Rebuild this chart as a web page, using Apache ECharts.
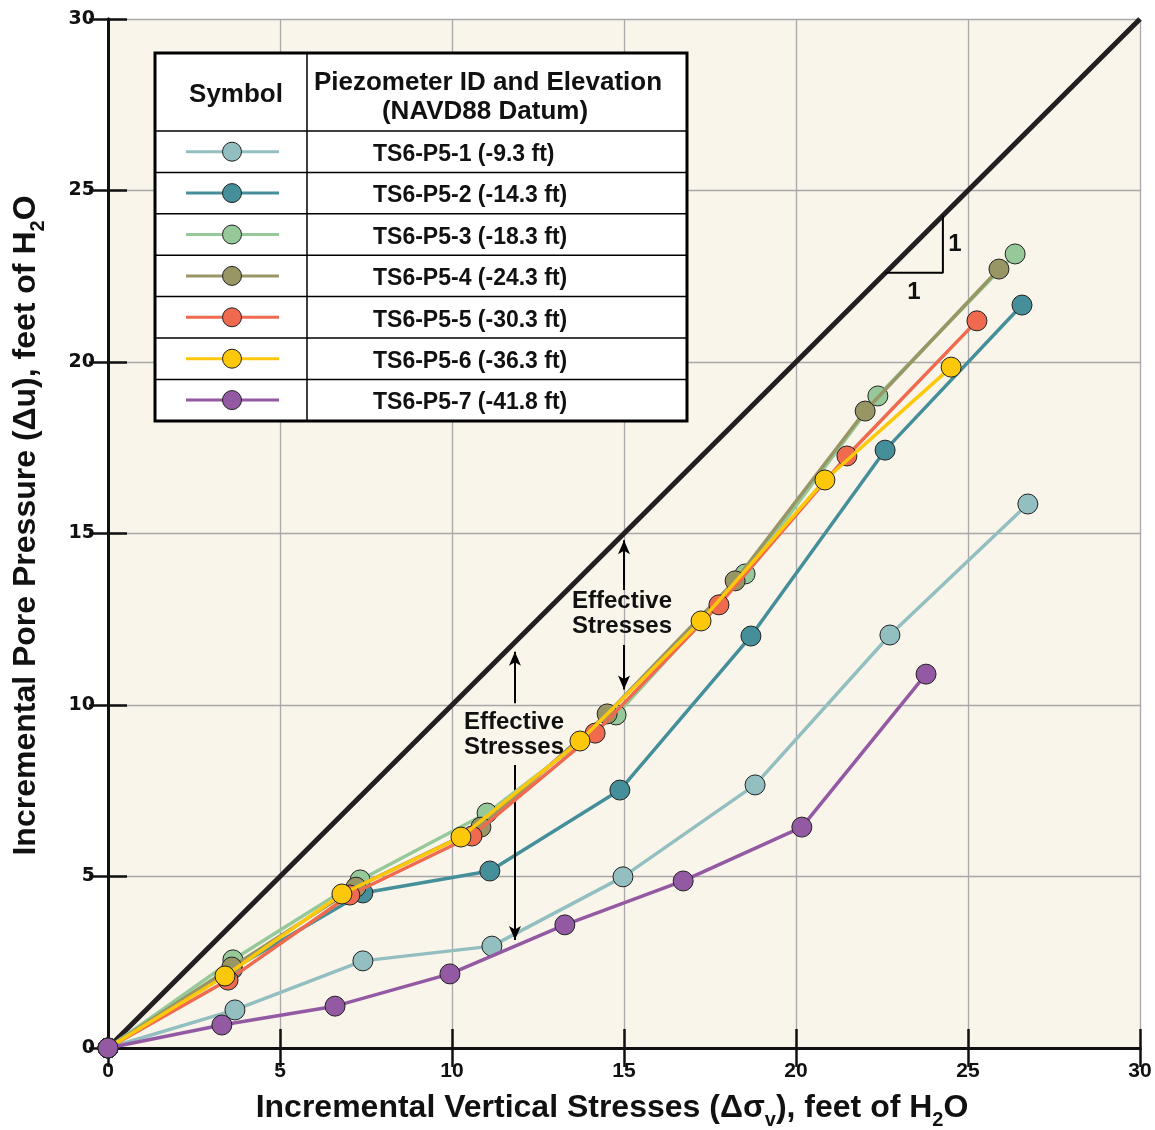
<!DOCTYPE html>
<html>
<head>
<meta charset="utf-8">
<script src="https://cdn.jsdelivr.net/npm/echarts@6/dist/echarts.min.js"></script>
<style>
  html, body { margin: 0; padding: 0; background: #fff; }
  #chart { width: 1155px; height: 1130px; }
</style>
</head>
<body>
<div id="chart"></div>
<script>
// piezometer readings: [incremental vertical stress, incremental pore pressure]
const p1 = [[0, 0], [3.69, 1.11], [7.41, 2.54], [11.16, 2.97], [14.97, 4.99], [18.81, 7.67], [22.73, 12.04], [26.74, 15.86]];
const p2 = [[0, 0], [3.62, 2.3], [7.41, 4.52], [11.10, 5.16], [14.88, 7.52], [18.69, 12.01], [22.59, 17.43], [26.57, 21.66]];
const p3 = [[0, 0], [3.63, 2.57], [7.33, 4.90], [11.02, 6.85], [14.77, 9.71], [18.52, 13.82], [22.38, 19.01], [26.37, 23.15]];
const p4 = [[0, 0], [3.60, 2.36], [7.21, 4.69], [10.84, 6.44], [14.51, 9.74], [18.23, 13.62], [22.01, 18.57], [25.90, 22.71]];
const p5 = [[0, 0], [3.49, 1.98], [7.03, 4.46], [10.58, 6.18], [14.16, 9.18], [17.76, 12.92], [21.48, 17.26], [25.26, 21.20]];
const p6 = [[0, 0], [3.40, 2.10], [6.80, 4.49], [10.26, 6.15], [13.72, 8.95], [17.24, 12.45], [20.84, 16.56], [24.51, 19.85]];
const p7 = [[0, 0], [3.31, 0.67], [6.60, 1.22], [9.94, 2.16], [13.28, 3.59], [16.72, 4.87], [20.17, 6.44], [23.78, 10.90]];

const names = ['TS6-P5-1 (-9.3 ft)', 'TS6-P5-2 (-14.3 ft)', 'TS6-P5-3 (-18.3 ft)', 'TS6-P5-4 (-24.3 ft)',
  'TS6-P5-5 (-30.3 ft)', 'TS6-P5-6 (-36.3 ft)', 'TS6-P5-7 (-41.8 ft)'];
const colors = ['#93bfc1', '#458f9a', '#96c99a', '#999666', '#ef6a4f', '#fdc80a', '#9459a3'];
const allData = [p1, p2, p3, p4, p5, p6, p7];

const oneToOne = [[0, 0], [30, 30]];
const slopeTriangle = [[22.6, 22.6], [24.27, 22.6], [24.27, 24.27]];
// arrows: [from, to]
const arrows = [
  [[15, 13.35], [15, 14.8]],
  [[15, 11.75], [15, 10.45]],
  [[11.83, 10.05], [11.83, 11.55]],
  [[11.83, 8.25], [11.83, 3.15]]
];

const FONT = '"Liberation Sans", Arial, sans-serif';
const myChart = echarts.init(document.getElementById('chart'));

let series = [];
allData.forEach((d, i) => {
  series.push({
    name: names[i],
    type: 'line',
    data: d,
    color: colors[i],
    lineStyle: { width: 3.5, color: colors[i] },
    symbol: 'circle',
    symbolSize: 20,
    showSymbol: true,
    itemStyle: { color: colors[i], borderColor: '#222', borderWidth: 1 },
    z: 3 + i
  });
});

series.push({
  type: 'line',
  data: oneToOne,
  symbol: 'none',
  lineStyle: { width: 5, color: '#231f20' },
  z: 2,
  markLine: {
    silent: true,
    symbol: ['none', 'arrow'],
    symbolSize: [9, 14],
    lineStyle: { color: '#000', width: 2, type: 'solid' },
    label: { show: false },
    data: arrows.map(a => [{ coord: a[0] }, { coord: a[1] }])
  }
});

series.push({
  type: 'line',
  data: slopeTriangle,
  symbol: 'none',
  lineStyle: { width: 2, color: '#000' },
  z: 2
});

// legend table rows
const tblL = 155, tblR = 687, tblT = 53, tblB = 421, tblDiv = 307, headB = 131, rowH = 41.4;
let graphics = [];
graphics.push({ type: 'rect', shape: { x: tblL, y: tblT, width: tblR - tblL, height: tblB - tblT },
  style: { fill: '#fff', stroke: '#000', lineWidth: 3 }, z: 50 });
graphics.push({ type: 'line', shape: { x1: tblDiv, y1: tblT, x2: tblDiv, y2: tblB },
  style: { stroke: '#000', lineWidth: 1.5 }, z: 51 });
for (let r = 0; r < 7; r++) {
  const y = headB + r * rowH;
  graphics.push({ type: 'line', shape: { x1: tblL, y1: y, x2: tblR, y2: y },
    style: { stroke: '#000', lineWidth: 1.5 }, z: 51 });
  const cy = y + rowH / 2;
  graphics.push({ type: 'line', shape: { x1: 186, y1: cy, x2: 279, y2: cy },
    style: { stroke: colors[r], lineWidth: 3 }, z: 52 });
  graphics.push({ type: 'circle', shape: { cx: 232, cy: cy, r: 9.5 },
    style: { fill: colors[r], stroke: '#222', lineWidth: 1 }, z: 53 });
  graphics.push({ type: 'text', x: 373, y: cy + 3,
    style: { text: names[r], font: 'bold 23px ' + FONT, fill: '#111', verticalAlign: 'middle' }, z: 53 });
}
graphics.push({ type: 'text', x: 236, y: 95,
  style: { text: 'Symbol', font: 'bold 26px ' + FONT, fill: '#111', align: 'center', verticalAlign: 'middle' }, z: 53 });
graphics.push({ type: 'text', x: 488, y: 83,
  style: { text: 'Piezometer ID and Elevation', font: 'bold 26px ' + FONT, fill: '#111', align: 'center', verticalAlign: 'middle' }, z: 53 });
graphics.push({ type: 'text', x: 485, y: 112,
  style: { text: '(NAVD88 Datum)', font: 'bold 26px ' + FONT, fill: '#111', align: 'center', verticalAlign: 'middle' }, z: 53 });

// annotations
graphics.push({ type: 'text', x: 622, y: 614,
  style: { text: 'Effective\nStresses', font: 'bold 24px ' + FONT, lineHeight: 25, fill: '#111', align: 'center', verticalAlign: 'middle' }, z: 53 });
graphics.push({ type: 'text', x: 514, y: 735,
  style: { text: 'Effective\nStresses', font: 'bold 24px ' + FONT, lineHeight: 25, fill: '#111', align: 'center', verticalAlign: 'middle' }, z: 53 });
graphics.push({ type: 'text', x: 955, y: 244,
  style: { text: '1', font: 'bold 24px ' + FONT, fill: '#111', align: 'center', verticalAlign: 'middle' }, z: 53 });
graphics.push({ type: 'text', x: 914, y: 292,
  style: { text: '1', font: 'bold 24px ' + FONT, fill: '#111', align: 'center', verticalAlign: 'middle' }, z: 53 });

const nameRich = {
  sub: { fontSize: 20, fontWeight: 'bold', fontFamily: FONT, color: '#111', verticalAlign: 'bottom', padding: [0, 0, -6, 0] }
};

let option = {
  backgroundColor: '#fff',
  animation: false,
  textStyle: { fontFamily: FONT },
  grid: { left: 108, right: 15, top: 19, bottom: 82, outerBoundsMode: 'none', show: true, backgroundColor: '#faf5ea', borderWidth: 0 },
  xAxis: [
    {
      type: 'value', min: 0, max: 30, interval: 5,
      name: 'Incremental Vertical Stresses (\u0394\u03c3{sub|v}), feet of H{sub|2}O',
      nameLocation: 'middle', nameGap: 44,
      nameTextStyle: { fontSize: 32, fontWeight: 'bold', color: '#111', fontFamily: FONT, rich: nameRich, padding: [0, 24, 0, 0] },
      axisLine: { show: true, lineStyle: { color: '#111', width: 3 } },
      axisTick: { show: true, inside: true, length: 19, lineStyle: { color: '#111', width: 2.5 } },
      axisLabel: { fontSize: 21, fontWeight: 'bold', color: '#111', margin: 13 },
      splitLine: { show: true, lineStyle: { color: '#a8a8a8', width: 1.3 } }
    },
    {
      type: 'value', min: 0, max: 30, interval: 5, position: 'top',
      axisLine: { show: true, lineStyle: { color: '#111', width: 3 } },
      axisTick: { show: true, inside: true, length: 19, lineStyle: { color: '#111', width: 2.5 } },
      axisLabel: { show: false },
      splitLine: { show: false }
    }
  ],
  yAxis: [
    {
      type: 'value', min: 0, max: 30, interval: 5,
      name: 'Incremental Pore Pressure (\u0394u), feet of H{sub|2}O',
      nameLocation: 'middle', nameGap: 66,
      nameTextStyle: { fontSize: 32, fontWeight: 'bold', color: '#111', fontFamily: FONT, rich: nameRich, padding: [0, 0, 0, 16] },
      axisLine: { show: true, lineStyle: { color: '#111', width: 3 } },
      axisTick: { show: true, inside: true, length: 19, lineStyle: { color: '#111', width: 2.5 } },
      axisLabel: { fontSize: 19, fontWeight: 'bold', color: '#111', margin: 13, fontFamily: '"DejaVu Sans", sans-serif' },
      splitLine: { show: true, lineStyle: { color: '#a8a8a8', width: 1.3 } }
    },
    {
      type: 'value', min: 0, max: 30, interval: 5, position: 'right',
      axisLine: { show: true, lineStyle: { color: '#111', width: 3 } },
      axisTick: { show: true, inside: true, length: 19, lineStyle: { color: '#111', width: 2.5 } },
      axisLabel: { show: false },
      splitLine: { show: false }
    }
  ],
  series: series,
  graphic: graphics
};

option && myChart.setOption(option);
</script>
</body>
</html>
